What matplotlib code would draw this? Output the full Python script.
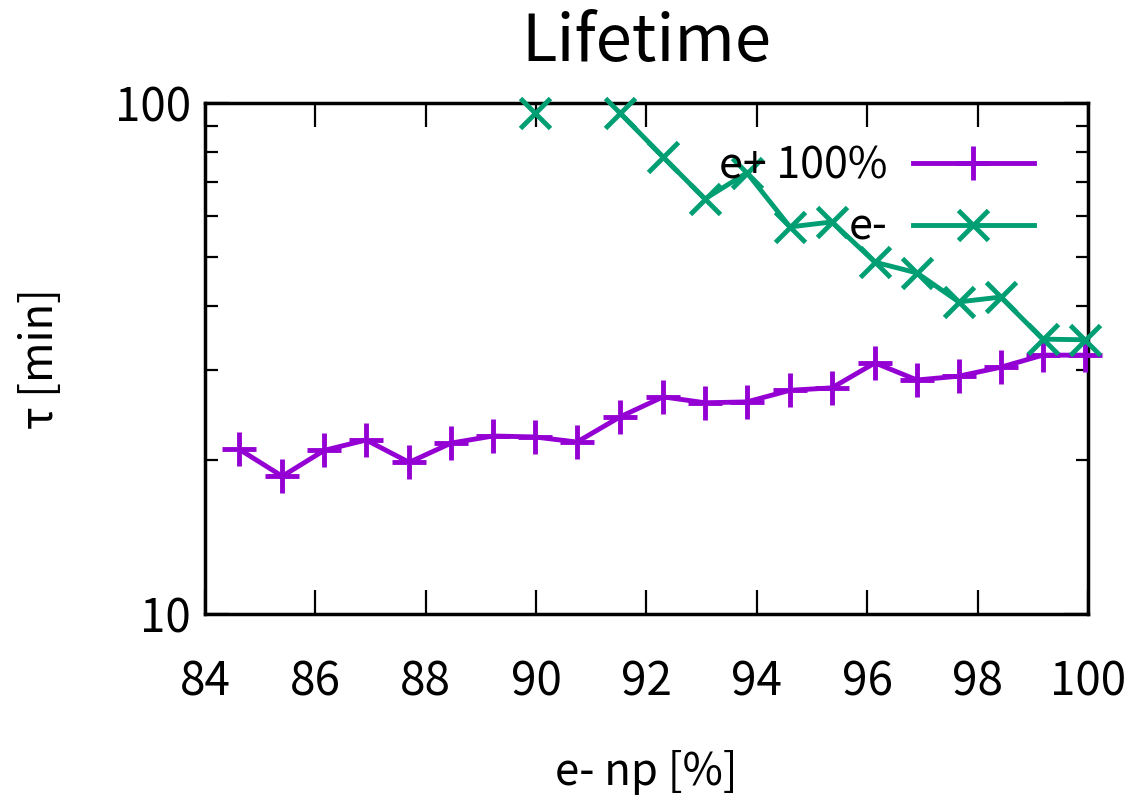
import numpy as np
import matplotlib
matplotlib.use("Agg")
import matplotlib.pyplot as plt
from matplotlib.ticker import LogLocator, NullFormatter, FixedLocator, FixedFormatter

plt.rcParams['font.family'] = ['Noto Sans CJK SC', 'DejaVu Sans']

# e+ 100% series
x_pos = [84.62, 85.40, 86.16, 86.92, 87.70, 88.46, 89.22, 89.98, 90.74, 91.52, 92.30,
         93.06, 93.82, 94.60, 95.36, 96.14, 96.90, 97.66, 98.42, 99.18, 99.94]
tau_pos = [21.0, 18.6, 20.9, 21.9, 19.8, 21.6, 22.3, 22.2, 21.7, 24.3, 26.6,
           25.9, 26.0, 27.4, 27.7, 31.0, 28.7, 29.2, 30.4, 32.1, 32.1]

# e- series (gap at 90.74)
x_neg = [89.98, 90.74, 91.52, 92.30, 93.06, 93.82, 94.60, 95.36, 96.14, 96.90,
         97.66, 98.42, 99.18, 99.94]
tau_neg = [95.6, np.nan, 95.6, 78.4, 64.9, 73.0, 57.2, 58.5, 48.8, 46.5,
           40.8, 41.7, 34.5, 34.4]

purple = '#9400D3'
green = '#009E73'

fig = plt.figure(figsize=(11.32, 7.98), dpi=100)
ax = fig.add_axes([0.1811, 0.2306, 0.78, 0.6404])

ax.plot(x_pos, tau_pos, color=purple, lw=3.5, marker='+', ms=24, mew=3.5,
        label='e+ 100%', clip_on=False, zorder=3)
ax.plot(x_neg, tau_neg, color=green, lw=3.5, marker='x', ms=21, mew=3.5,
        label='e-', clip_on=False, zorder=3)

ax.set_yscale('log')
ax.set_xlim(84, 100)
ax.set_ylim(10, 100)
ax.xaxis.set_major_locator(FixedLocator(np.arange(84, 101, 2)))
ax.yaxis.set_major_locator(FixedLocator([10, 100]))
ax.yaxis.set_major_formatter(FixedFormatter(['10', '100']))
ax.yaxis.set_minor_locator(LogLocator(base=10, subs=np.arange(2, 10)))
ax.yaxis.set_minor_formatter(NullFormatter())

ax.tick_params(which='both', direction='in', top=True, right=True, width=1.6,
               labelsize=33)
ax.tick_params(axis='x', pad=32)
ax.tick_params(axis='y', pad=10)
ax.tick_params(which='major', length=17)
ax.tick_params(which='minor', length=9)
for s in ax.spines.values():
    s.set_linewidth(2.5)

ax.set_title('Lifetime', fontsize=47, pad=30)
ax.set_xlabel('e- np [%]', fontsize=31.5, va='center')
ax.set_ylabel('τ [min]', fontsize=31.5, va='center')
ax.xaxis.set_label_coords(0.5, -0.309)
ax.yaxis.set_label_coords(-0.187, 0.5)

ax.legend(loc='upper right', bbox_to_anchor=(0.997, 1.02), markerfirst=False,
          frameon=False, fontsize=31, handlelength=2.8, handletextpad=0.6,
          labelspacing=0.4, borderaxespad=0.9, borderpad=0.3)

fig.savefig('out.png', dpi=100)
